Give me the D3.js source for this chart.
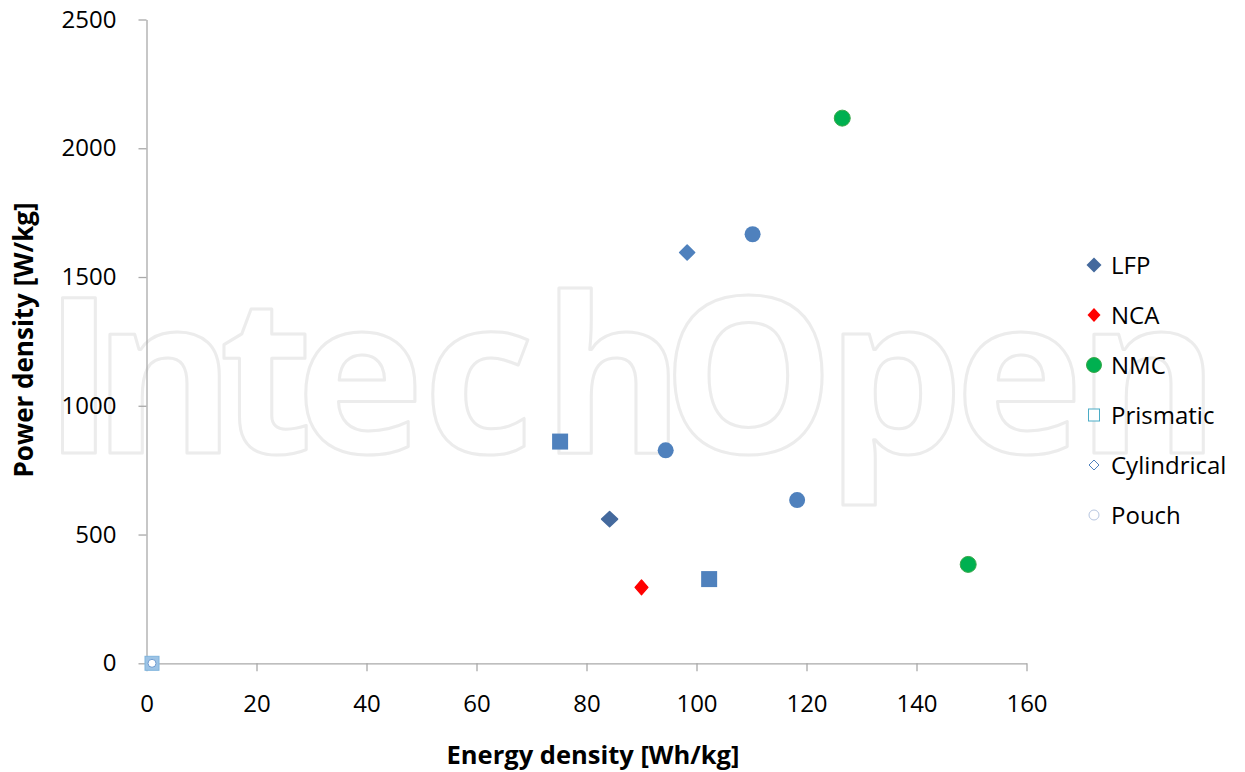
<!DOCTYPE html>
<html>
<head>
<meta charset="utf-8">
<script src="https://cdn.jsdelivr.net/npm/d3@7"></script>
<style>
  html, body { margin: 0; padding: 0; background: #fff; }
  svg { display: block; }
  text { font-family: "Open Sans", "Noto Sans", sans-serif; }
</style>
</head>
<body>
<svg id="chart" width="1245" height="772"></svg>
<script>
// ---- Data ----
const xTicks = [0, 20, 40, 60, 80, 100, 120, 140, 160];
const yTicks = [0, 500, 1000, 1500, 2000, 2500];

const lfpPoints = [{ x: 84.2, y: 560 }];
const ncaPoints = [{ x: 90.0, y: 295 }];
const nmcPoints = [{ x: 126.5, y: 2117 }, { x: 149.4, y: 384 }];
const prismaticPoints = [{ x: 75.2, y: 861 }, { x: 102.3, y: 327 }];
const cylindricalPoints = [{ x: 98.3, y: 1595 }];
const pouchPoints = [{ x: 110.2, y: 1666 }, { x: 94.4, y: 827 }, { x: 118.3, y: 634 }];
const formatLegendPoints = [{ x: 1.0, y: 0 }];

const legendLabels = ["LFP", "NCA", "NMC", "Prismatic", "Cylindrical", "Pouch"];
const xTitle = "Energy density [Wh/kg]";
const yTitle = "Power density [W/kg]";
const watermark = "IntechOpen";

// ---- Layout ----
const svg = d3.select("#chart");
const x = d3.scaleLinear().domain([0, 160]).range([146.5, 1026.5]);
const y = d3.scaleLinear().domain([0, 2500]).range([663.3, 19.5]);
const axisColor = "#a9a9a9";

// Watermark (outlined background lettering)
const wmGlyphX = [43, 93, 219, 296, 423, 542, 662, 826, 955, 1077];
svg.append("text")
  .attr("x", wmGlyphX.join(" ")).attr("y", 453)
  .attr("font-family", "Lato, 'Open Sans', sans-serif")
  .attr("font-weight", "bold")
  .attr("font-size", 217)
  .attr("fill", "none")
  .attr("stroke", "#ececec")
  .attr("stroke-width", 3)
  .attr("stroke-linejoin", "round")
  .text(watermark);

// Axes
const xAxis = svg.append("g")
  .attr("transform", `translate(0,${y(0)})`)
  .call(d3.axisBottom(x).tickValues(xTicks).tickSize(8).tickSizeOuter(0).tickPadding(24).tickFormat(d3.format("d")));
const yAxis = svg.append("g")
  .attr("transform", `translate(${x(0)},0)`)
  .call(d3.axisLeft(y).tickValues(yTicks).tickSize(8).tickSizeOuter(0).tickPadding(22).tickFormat(d3.format("d")));

[xAxis, yAxis].forEach(g => {
  g.select(".domain").attr("stroke", axisColor).attr("stroke-width", 1.3);
  g.selectAll(".tick line").attr("stroke", axisColor).attr("stroke-width", 1.3);
  g.selectAll(".tick text")
    .attr("fill", "#000")
    .attr("font-size", 24)
    .attr("font-family", "'Open Sans', sans-serif");
});

// Axis titles
svg.append("text")
  .attr("x", 593).attr("y", 764)
  .attr("text-anchor", "middle")
  .attr("font-size", 25.5).attr("font-weight", "bold")
  .attr("fill", "#000")
  .text(xTitle);
svg.append("text")
  .attr("transform", "translate(33,340) rotate(-90)")
  .attr("text-anchor", "middle")
  .attr("font-size", 26).attr("font-weight", "bold")
  .attr("fill", "#000")
  .text(yTitle);

// Symbols
const diamondPath = (w, h) => `M0,${-h/2}L${w/2},0L0,${h/2}L${-w/2},0Z`;

const plot = svg.append("g");

// dummy format-legend points at the origin
plot.selectAll(".fmt-sq").data(formatLegendPoints).join("rect")
  .attr("x", d => x(d.x) - 7).attr("y", d => y(d.y) - 7)
  .attr("width", 14).attr("height", 14)
  .attr("fill", "#9cc3e5").attr("stroke", "#7fb3dc").attr("stroke-width", 1);
plot.selectAll(".fmt-ci").data(formatLegendPoints).join("circle")
  .attr("cx", d => x(d.x)).attr("cy", d => y(d.y)).attr("r", 4)
  .attr("fill", "#ffffff").attr("stroke", "#6e9bd0").attr("stroke-width", 1);

// Prismatic: filled squares
plot.selectAll(".prism").data(prismaticPoints).join("rect")
  .attr("x", d => x(d.x) - 8).attr("y", d => y(d.y) - 8)
  .attr("width", 16).attr("height", 16)
  .attr("fill", "#4f81bd");

// Pouch: filled circles
plot.selectAll(".pouch").data(pouchPoints).join("circle")
  .attr("cx", d => x(d.x)).attr("cy", d => y(d.y)).attr("r", 8)
  .attr("fill", "#4f81bd");

// Cylindrical: filled diamond
plot.selectAll(".cyl").data(cylindricalPoints).join("path")
  .attr("transform", d => `translate(${x(d.x)},${y(d.y)})`)
  .attr("d", diamondPath(15, 15))
  .attr("fill", "#4f81bd").attr("stroke", "#4f81bd").attr("stroke-width", 1.5).attr("stroke-linejoin", "round");

// LFP: dark blue diamond
plot.selectAll(".lfp").data(lfpPoints).join("path")
  .attr("transform", d => `translate(${x(d.x)},${y(d.y)})`)
  .attr("d", diamondPath(16, 15))
  .attr("fill", "#44699d").attr("stroke", "#44699d").attr("stroke-width", 1.5).attr("stroke-linejoin", "round");

// NCA: red diamond
plot.selectAll(".nca").data(ncaPoints).join("path")
  .attr("transform", d => `translate(${x(d.x)},${y(d.y)})`)
  .attr("d", diamondPath(13, 15))
  .attr("fill", "#ff0000").attr("stroke", "#ff0000").attr("stroke-width", 1.2).attr("stroke-linejoin", "round");

// NMC: green circles
plot.selectAll(".nmc").data(nmcPoints).join("circle")
  .attr("cx", d => x(d.x)).attr("cy", d => y(d.y)).attr("r", 8)
  .attr("fill", "#00b050").attr("stroke", "#3aa84a").attr("stroke-width", 1);

// Legend
const legend = svg.append("g");
const legendY = i => 265 + i * 50;
const markerX = 1094;
const textX = 1111;

const legendMarkers = [
  g => g.append("path").attr("d", diamondPath(15, 15)).attr("fill", "#44699d"),
  g => g.append("path").attr("d", diamondPath(13, 14)).attr("fill", "#ff0000"),
  g => g.append("circle").attr("r", 7.5).attr("fill", "#00b050").attr("stroke", "#3aa84a").attr("stroke-width", 1),
  g => g.append("rect").attr("x", -5.5).attr("y", -6).attr("width", 11).attr("height", 12).attr("fill", "#fff").attr("stroke", "#4bacc6").attr("stroke-width", 1),
  g => g.append("path").attr("d", diamondPath(10, 10)).attr("fill", "#fff").attr("stroke", "#4f81bd").attr("stroke-width", 1),
  g => g.append("circle").attr("r", 5).attr("fill", "#fff").attr("stroke", "#b7c6e0").attr("stroke-width", 1)
];

legendLabels.forEach((label, i) => {
  const g = legend.append("g").attr("transform", `translate(${markerX},${legendY(i)})`);
  legendMarkers[i](g);
  legend.append("text")
    .attr("x", textX).attr("y", legendY(i))
    .attr("dy", "0.36em")
    .attr("font-size", 24)
    .attr("fill", "#000")
    .text(label);
});
</script>
</body>
</html>
